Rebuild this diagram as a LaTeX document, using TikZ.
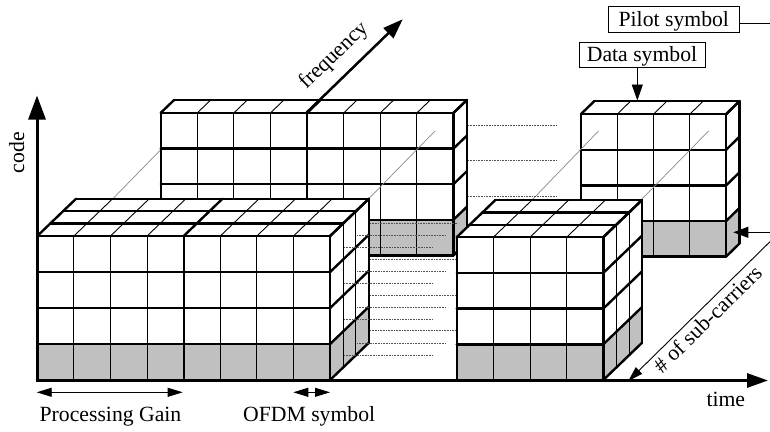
\documentclass[tikz,border=0pt]{standalone}
\usepackage{fontspec}
\setmainfont{Liberation Serif}
\usetikzlibrary{arrows.meta}
\definecolor{cellgray}{HTML}{C0C0C0}
\definecolor{guidegray}{HTML}{8A8A8A}
\definecolor{dotgray}{HTML}{505050}

\tikzset{
  thinln/.style={line width=0.9pt, black},
  thickln/.style={line width=2.4pt, black, line cap=round},
  guideln/.style={line width=0.7pt, guidegray},
  dotln/.style={line width=0.8pt, dotgray, dash pattern=on 0.8pt off 0.8pt},
  lbl/.style={font=\fontsize{21.7}{26}\selectfont, inner sep=0pt},
  tagbox/.style={draw, line width=0.9pt, font=\fontsize{21.7}{26}\selectfont, inner sep=0pt},
  dimarrow/.style={line width=0.9pt, {Triangle[length=15pt,width=9pt]}-{Triangle[length=15pt,width=9pt]}},
  callout/.style={line width=0.9pt, -{Triangle[length=15pt,width=11pt]}},
}

% A block of cells seen in oblique view: 4 code rows (bottom row grey),
% #3 time columns (thick divider every 4 columns) and #6 frequency layers.
% #1 left x, #2 bottom y, #4 column width, #5 row height,
% #7 / #8 shift per layer to the right / upwards.
\newcommand{\gridblock}[8]{%
  \pgfmathsetmacro\blkW{#3*#4}%
  \pgfmathsetmacro\blkH{4*#5}%
  \pgfmathsetmacro\blkT{#2-\blkH}%
  \pgfmathsetmacro\blkDX{#6*#7}%
  \pgfmathsetmacro\blkDY{#6*#8}%
  \pgfmathsetmacro\blkR{#1+\blkW}%
  \pgfmathsetmacro\blkG{#2-#5}%
  % faces
  \fill[white] (#1,\blkT) rectangle (\blkR,#2);
  \fill[cellgray] (#1,\blkG) rectangle (\blkR,#2);
  \fill[white] (#1,\blkT) -- (\blkR,\blkT) -- ++(\blkDX,-\blkDY) -- ++(-\blkW,0) -- cycle;
  \fill[white] (\blkR,\blkT) -- ++(\blkDX,-\blkDY) -- ++(0,\blkH) -- (\blkR,#2) -- cycle;
  \fill[cellgray] (\blkR,\blkG) -- ++(\blkDX,-\blkDY) -- ++(0,#5) -- (\blkR,#2) -- cycle;
  % thin lines: inner columns (front and top), inner layers (side)
  \foreach \cj in {1,...,#3}{%
    \pgfmathtruncatemacro\cjm{mod(\cj,4)}%
    \ifnum\cjm>0
      \draw[thinln] (#1+\cj*#4,\blkT) -- ++(0,\blkH);
      \draw[thinln] (#1+\cj*#4,\blkT) -- ++(\blkDX,-\blkDY);
    \fi
  }
  \ifnum#6>1
    \pgfmathtruncatemacro\blkNm{#6-1}%
    \foreach \dl in {1,...,\blkNm}{%
      \draw[thinln] (\blkR+\dl*#7,\blkT-\dl*#8) -- ++(0,\blkH);
    }
  \fi
  % thick lines: dividers, rows, layers and outline
  \foreach \cj in {0,4,...,#3}{%
    \draw[thickln] (#1+\cj*#4,\blkT) -- ++(0,\blkH);
    \draw[thickln] (#1+\cj*#4,\blkT) -- ++(\blkDX,-\blkDY);
  }
  \foreach \rk in {0,...,4}{%
    \draw[thickln] (#1,\blkT+\rk*#5) -- ++(\blkW,0);
    \draw[thickln] (\blkR,\blkT+\rk*#5) -- ++(\blkDX,-\blkDY);
  }
  \foreach \dl in {1,...,#6}{%
    \draw[thickln] (#1+\dl*#7,\blkT-\dl*#8) -- ++(\blkW,0);
  }
  \draw[thickln] (\blkR+\blkDX,\blkT-\blkDY) -- ++(0,\blkH);
}

\begin{document}
\begin{tikzpicture}[x=1pt,y=-1pt]
\useasboundingbox (0,0) rectangle (770,431);
\clip (0,0) rectangle (770,431);

% frequency guide that runs behind the rear block
\draw[guideln] (112.6,199) -- (179,131);

% rear blocks
\gridblock{160.7}{255.3}{8}{36.6}{35.6}{1}{13.5}{13}
\gridblock{581}{256.5}{4}{36.3}{35.6}{1}{13.3}{13}

% frequency guides
\draw[guideln] (368.8,198.7) -- (435,131);
\draw[guideln] (532,200) -- (598.5,131);
\draw[guideln] (642,199) -- (708.5,131);

% time guides between the rear blocks
\foreach \yy in {125,160.3,196.7} \draw[dotln] (468,\yy) -- (557,\yy);

% frequency axis
\coordinate (f0) at (306.7,112.5);
\coordinate (f1) at (402.7,19.3);
\draw[line width=2.5pt, -{Triangle[length=20pt,width=14pt]}] (f0) -- (f1);

% front blocks and the time guides between them
\gridblock{37.3}{380}{8}{36.6}{36}{3}{12.9}{12.4}
\foreach \i in {0,...,3}{%
  \pgfmathsetmacro\yy{223.3+35.8*\i}%
  \draw[dotln] (370,\yy) -- (458,\yy);
  \draw[dotln] (357,\yy+12.2) -- (446,\yy+12.2);
  \draw[dotln] (344,\yy+24.3) -- (433.3,\yy+24.3);
}
\gridblock{456.7}{380}{4}{36.65}{35.7}{3}{12.9}{12.4}

% code and time axes
\coordinate (o) at (37,380.5);
\coordinate (ctip) at (37,95.5);
\coordinate (ttip) at (768,380.5);
\draw[line width=3pt, -{Triangle[length=24pt,width=17pt]}] ([yshift=-1.5pt]o) -- (ctip);
\draw[line width=3pt, -{Triangle[length=21pt,width=14pt]}] ([xshift=-1.5pt]o) -- (ttip);

% axis labels
\node[lbl, rotate=90] (code) at (16.7,152.7) {code};
\node[lbl, anchor=base] (time) at (725.8,406.7) {time};
\node[lbl, rotate=44] (freq) at (334,56) {frequency};
\node[lbl, rotate=44.5] (subc) at (707.5,319) {\# of sub-carriers};

% sub-carrier span
\coordinate (s0) at (628.3,381);
\coordinate (s1) at (790,222);
\draw[dimarrow] (s0) -- (s1);

% spans under the time axis
\coordinate (pgL) at (36.7,392.3);
\coordinate (pgR) at (182.7,392.3);
\draw[dimarrow] (pgL) -- (pgR);
\coordinate (ofL) at (293.3,392.3);
\coordinate (ofR) at (330,392.3);
\draw[dimarrow] (ofL) -- (ofR);
\node[lbl, anchor=base] (pg) at (110.5,421.7) {Processing Gain};
\node[lbl, anchor=base] (ofdm) at (309.2,421.7) {OFDM symbol};

% symbol tags
\node[tagbox, minimum width=131pt, text height=20pt, text depth=5.6pt] (pilot) at (673.8,19.5) {Pilot symbol};
\node[tagbox, minimum width=126pt, text height=19pt, text depth=6pt] (data) at (642,55.2) {Data symbol};

\coordinate (pc1) at (790,23.3);
\coordinate (pc2) at (790,232.3);
\coordinate (ptip) at (733.3,232.3);
\draw[callout] (pilot.east |- pc1) -- (pc1) -- (pc2) -- (ptip);

\coordinate (dtip) at (637.3,100.5);
\draw[line width=0.9pt, -{Triangle[length=16pt,width=11pt]}] (data.south -| dtip) -- (dtip);
\end{tikzpicture}
\end{document}
